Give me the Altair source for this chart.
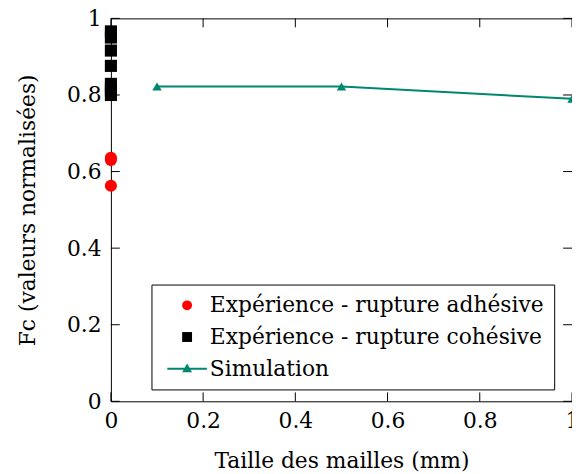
import altair as alt
import pandas as pd

# ---- data ----
series_names = ["Expérience - rupture adhésive", "Expérience - rupture cohésive", "Simulation"]
series_colors = ["#ff0000", "#000000", "#00876f"]

adh_x = [0.0, 0.0, 0.0]
adh_y = [0.636, 0.630, 0.563]

coh_x = [0.0, 0.0, 0.0, 0.0, 0.0, 0.0, 0.0]
coh_y = [0.966, 0.950, 0.916, 0.876, 0.829, 0.815, 0.800]

sim_x = [0.1, 0.5, 1.0]
sim_y = [0.822, 0.822, 0.790]

tick_values = [0.0, 0.2, 0.4, 0.6, 0.8, 1.0]

# ---- layout / style ----
W, H = 466, 387
FONT = "DejaVu Serif"
FS = 22
TICK = 9
TEAL = series_colors[2]

exp_df = pd.DataFrame({
    "x": adh_x + coh_x,
    "y": adh_y + coh_y,
    "serie": [series_names[0]] * len(adh_x) + [series_names[1]] * len(coh_x),
})
sim_df = pd.DataFrame({"x": sim_x, "y": sim_y})
ticks_df = pd.DataFrame({"t": tick_values})

xscale = alt.Scale(domain=[0, 1], nice=False, zero=False)
yscale = alt.Scale(domain=[0, 1], nice=False, zero=False)

common_axis = dict(
    values=tick_values, format="~g", grid=False, ticks=False, domain=False,
    labelFont=FONT, labelFontSize=FS, labelColor="black",
    titleFont=FONT, titleFontSize=FS, titleColor="black", titleFontWeight="normal",
    labelFlush=False,
)
x_axis = alt.Axis(title="Taille des mailles (mm)", labelPadding=9, titlePadding=20, **common_axis)
y_axis = alt.Axis(title="Fc (valeurs normalisées)", labelPadding=10, titlePadding=27, **common_axis)

sim_shape = "M-4,-0.2H4V0.2H-4Z M0,-1.05L1,0.75H-1Z"

legend = alt.Legend(
    title=None, orient="none", legendX=41, legendY=269,
    labelFont=FONT, labelFontSize=FS, labelColor="black", labelLimit=0,
    symbolSize=100, symbolStrokeWidth=0, symbolOffset=15, labelOffset=12,
    padding=10, rowPadding=10,
    strokeColor="black", fillColor="white", cornerRadius=0,
)

points = alt.Chart(exp_df).mark_point(filled=True, size=150, opacity=1).encode(
    x=alt.X("x:Q", scale=xscale, axis=x_axis),
    y=alt.Y("y:Q", scale=yscale, axis=y_axis),
    color=alt.Color("serie:N", scale=alt.Scale(domain=series_names, range=series_colors), legend=legend),
    shape=alt.Shape("serie:N", scale=alt.Scale(domain=series_names, range=["circle", "square", sim_shape]), legend=legend),
)

sim_line = alt.Chart(sim_df).mark_line(color=TEAL, strokeWidth=2).encode(
    x=alt.X("x:Q", scale=xscale),
    y=alt.Y("y:Q", scale=yscale),
)
sim_pts = alt.Chart(sim_df).mark_point(filled=True, shape="triangle-up", size=90, color=TEAL, opacity=1).encode(
    x=alt.X("x:Q", scale=xscale),
    y=alt.Y("y:Q", scale=yscale),
)

tick_style = dict(color="black", strokeWidth=1)
yt_left = alt.Chart(ticks_df).mark_rule(**tick_style).encode(
    y=alt.Y("t:Q", scale=yscale), x=alt.value(0), x2=alt.value(TICK))
yt_right = alt.Chart(ticks_df).mark_rule(**tick_style).encode(
    y=alt.Y("t:Q", scale=yscale), x=alt.value(W - TICK), x2=alt.value(W))
xt_bottom = alt.Chart(ticks_df).mark_rule(**tick_style).encode(
    x=alt.X("t:Q", scale=xscale), y=alt.value(H - TICK), y2=alt.value(H))
xt_top = alt.Chart(ticks_df).mark_rule(**tick_style).encode(
    x=alt.X("t:Q", scale=xscale), y=alt.value(0), y2=alt.value(TICK))

chart = alt.layer(
    yt_left, yt_right, xt_bottom, xt_top, sim_line, sim_pts, points
).properties(
    width=W, height=H,
    padding={"left": 104, "top": 8, "right": 0, "bottom": 75},
    autosize=alt.AutoSizeParams(type="none"),
).configure(
    background="white", font=FONT,
).configure_view(
    stroke="black", strokeWidth=1,
)

chart.save("out.html", embed_options={"renderer": "svg", "actions": False})
